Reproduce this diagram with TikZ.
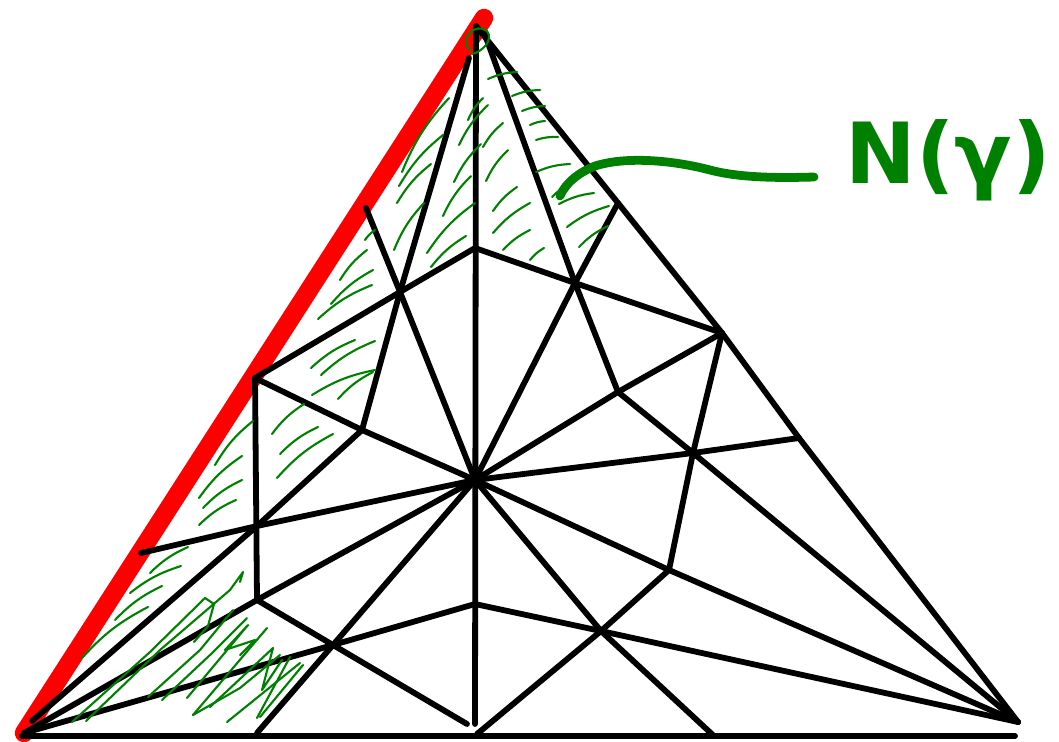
\documentclass[tikz,border=0pt]{standalone}
\usepackage{fontspec}
\usepackage{tikz}
\newfontfamily\labelfont{DejaVu Sans}
\definecolor{cKante}{RGB}{0,0,0}
\definecolor{cGamma}{RGB}{255,0,0}
\definecolor{cHull}{RGB}{0,128,0}

\begin{document}
\begin{tikzpicture}[x=0.02cm,y=-0.02cm,line cap=round,line join=round,
  edge/.style={cKante,line width=3.3pt},
  gamma/.style={cGamma,line width=10.5pt},
  hatch/.style={cHull,line width=1.2pt},
  leader/.style={cHull,line width=5pt}]
\useasboundingbox (0,0) rectangle (1059,741);
% Ecken und Knoten
\coordinate (A) at (476,26);   \coordinate (BL) at (24,733);  \coordinate (BR) at (1018,722);
\coordinate (bL) at (22,736);  \coordinate (bR) at (1015,736);
\coordinate (rTop) at (484,18);
\coordinate (R1) at (618,203); \coordinate (QR) at (722,333); \coordinate (R2) at (799,438);
\coordinate (T1) at (475,248); \coordinate (C) at (475,480);  \coordinate (T2) at (475,604);
\coordinate (Vb) at (475,724);
\coordinate (a1) at (469,58);  \coordinate (a2) at (484,32);
\coordinate (P1) at (400,292); \coordinate (P2) at (575,283);
\coordinate (L1) at (366,208); \coordinate (L2) at (141,553);
\coordinate (V1) at (255,378); \coordinate (W) at (257,526);  \coordinate (V2) at (257,600);
\coordinate (X1) at (362,430); \coordinate (X2) at (618,392); \coordinate (X3) at (693,453);
\coordinate (X4) at (669,570); \coordinate (X5) at (601,631); \coordinate (X6) at (333,645);
\coordinate (E1) at (32,721);
\coordinate (Bm1) at (257,733); \coordinate (Bm2) at (467,724);
\coordinate (Bm3) at (477,734); \coordinate (Bm4) at (714,736);

\draw[gamma] (BL)--(rTop);

\draw[edge] (bL)--(bR);
\draw[edge] (A)--(R1)--(QR)--(R2)--(BR);
\draw[edge] (A)--(Vb);
\draw[edge] (a1)--(P1)--(X1);
\draw[edge] (a2)--(P2)--(X2);
\draw[edge] (L1)--(P1)--(C);
\draw[edge] (R1)--(P2)--(C);
\draw[edge] (V1)--(P1)--(T1)--(P2)--(QR);
\draw[edge] (V1)--(V2);
\draw[edge] (V1)--(X1)--(C);
\draw[edge] (X1)--(W)--(E1);
\draw[edge] (QR)--(X2)--(C);
\draw[edge] (X2)--(X3)--(BR);
\draw[edge] (QR)--(X3)--(X4);
\draw[edge] (C)--(X3)--(R2);
\draw[edge] (C)--(X4)--(BR);
\draw[edge] (X4)--(X5)--(Bm3);
\draw[edge] (C)--(X5)--(Bm4);
\draw[edge] (T2)--(X5)--(BR);
\draw[edge] (T2)--(X6)--(BL);
\draw[edge] (V2)--(C);
\draw[edge] (V2)--(X6)--(Bm2);
\draw[edge] (V2)--(BL);
\draw[edge] (C)--(X6)--(Bm1);
\draw[edge] (L2)--(W)--(C);

% Schraffur
\draw[hatch] (470,50) .. controls (458,38) and (476,22) .. (487,31) .. controls (494,40) and (482,52) .. (472,54);
\foreach \xa/\ya/\xb/\yb in {488/79/517/72, 512/96/540/90, 522/111/545/106, 530/125/545/121,
  536/140/558/137, 536/172/570/164, 552/197/567/186, 559/204/594/193, 567/227/609/206,
  579/247/608/226, 530/260/544/248,
  468/120/483/98, 459/145/488/105, 483/147/503/123, 486/181/508/150, 493/211/517/187,
  493/233/530/203, 503/250/530/230,
  454/182/481/144, 443/216/471/176, 427/253/475/203, 431/267/466/236,
  402/172/449/98, 399/186/443/135, 397/203/431/164, 394/250/424/203, 365/240/375/230,
  340/280/367/250, 331/304/373/270, 318/319/372/285,
  311/368/355/340, 321/375/375/341, 312/395/375/370, 338/399/373/372, 272/434/304/404,
  280/454/318/427, 277/478/333/434,
  215/465/253/421, 199/498/242/456, 203/508/242/480, 199/525/236/500,
  150/573/188/547, 130/593/181/566, 115/620/162/586, 82/658/148/607}
  \draw[hatch] (\xa,\ya) to[bend left=10] (\xb,\yb);
\draw[hatch] (72,722) -- (150,652) -- (205,598) -- (214,604) -- (208,626) -- (194,642);
\draw[hatch] (86,721) -- (160,650) -- (230,590) -- (243,572) -- (240,582);
\draw[hatch] (148,697) -- (200,650) -- (233,610);
\draw[hatch] (162,700) -- (210,655) -- (247,618);
\draw[hatch] (187,698) -- (248,625) -- (225,650) -- (255,640) -- (240,655);
\draw[hatch] (193,715) -- (267,628);
\draw[hatch] (193,715) -- (240,688) -- (280,655);
\draw[hatch] (210,707) -- (273,648) -- (262,690) -- (282,660);
\draw[hatch] (227,722) -- (300,663);
\draw[hatch] (257,718) -- (290,657);
\draw[hatch] (260,717) -- (303,665);

% Beschriftung
\node[text=cHull,font=\labelfont\bfseries\fontsize{48}{48}\selectfont] (lbl) at (948,160) {N(γ)};
\coordinate (lEnd) at (814,177);
\coordinate (lStart) at (560,196);
\draw[leader] (lEnd) .. controls (780,178) and (740,178) .. (710,170)
  .. controls (680,162) and (630,155) .. (595,166) .. controls (580,172) and (566,182) .. (lStart);
\end{tikzpicture}
\end{document}
